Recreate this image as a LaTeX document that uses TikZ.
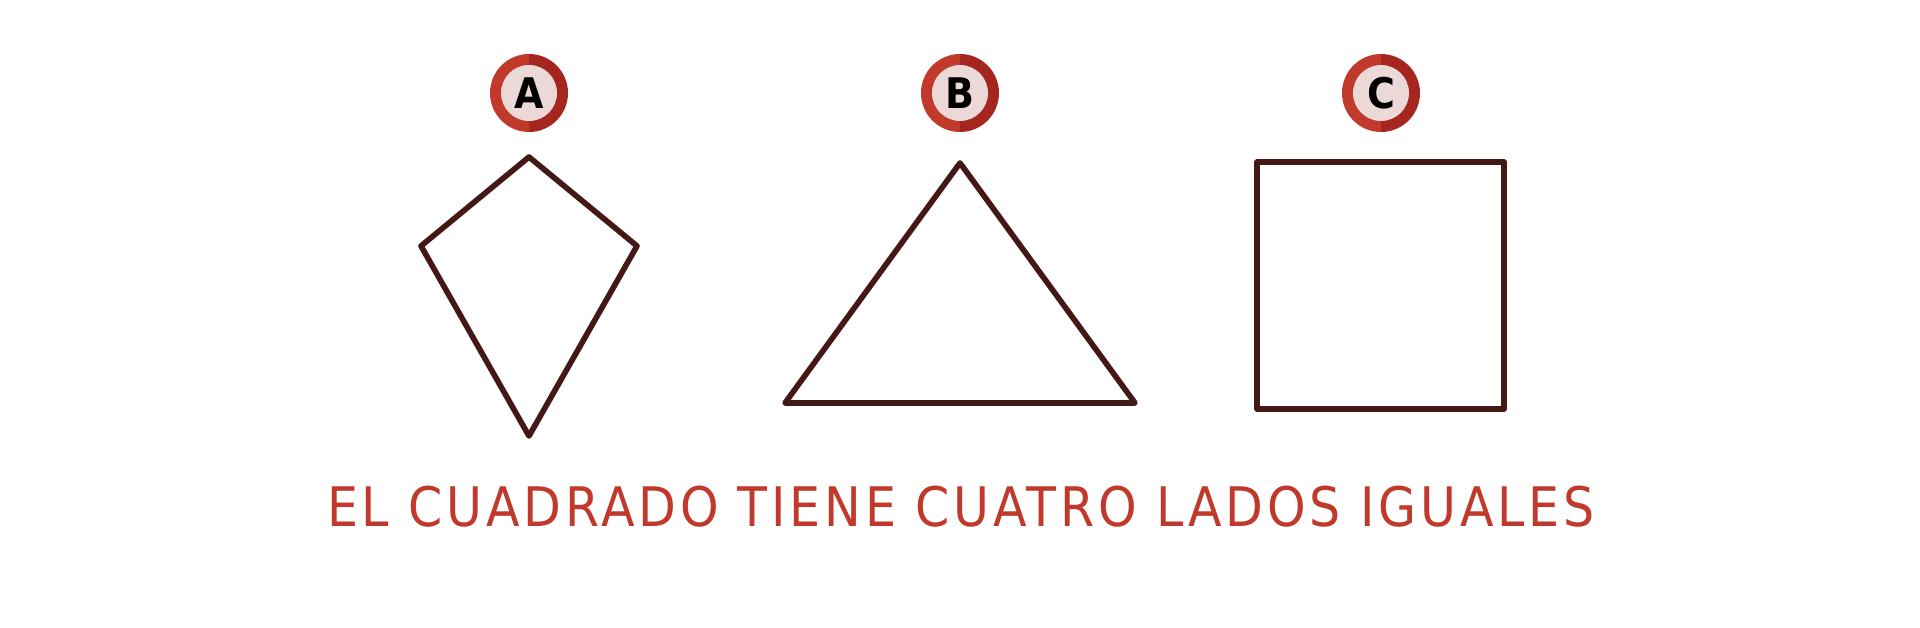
\documentclass[tikz,border=0pt]{standalone}
\usepackage{fontspec}
\setsansfont{DejaVu Sans Condensed}
\definecolor{ringL}{RGB}{192,57,43}
\definecolor{ringR}{RGB}{165,38,30}
\definecolor{badgein}{RGB}{236,217,215}
\definecolor{shapeline}{RGB}{68,24,21}
\definecolor{captcol}{RGB}{192,57,43}
\tikzset{
  figline/.style={draw=shapeline,line width=1.6pt,line join=round},
  badgetxt/.style={font=\sffamily\bfseries\fontsize{12}{12}\selectfont,text=black,inner sep=0pt},
  capt/.style={font=\sffamily\fontsize{15.5}{16}\selectfont\addfontfeatures{LetterSpace=7},text=captcol,inner sep=0pt},
}
\newcommand{\badge}[3]{%
  \fill[ringL] (#1,#2) ++(0,39) arc (90:270:39) -- cycle;
  \fill[ringR] (#1,#2) ++(0,-39) arc (-90:90:39) -- cycle;
  \fill[badgein] (#1,#2) circle (28);
  \node[badgetxt] (lab#3) at (#1,#2) {#3};
}
\begin{document}
\begin{tikzpicture}[x=0.01cm,y=-0.01cm]
  \useasboundingbox (0,0) rectangle (1920,628);
  % badges
  \badge{529}{93}{A}
  \badge{960}{93}{B}
  \badge{1381}{93}{C}
  % kite
  \draw[figline] (529,157) -- (637,246) -- (529,436) -- (421,246) -- cycle;
  % triangle
  \draw[figline] (960,163) -- (1135,403) -- (785,403) -- cycle;
  % square
  \draw[figline] (1257,162) rectangle (1504,409);
  \node[capt,anchor=base] (capt) at (961,527) {EL CUADRADO TIENE CUATRO LADOS IGUALES};
\end{tikzpicture}
\end{document}
